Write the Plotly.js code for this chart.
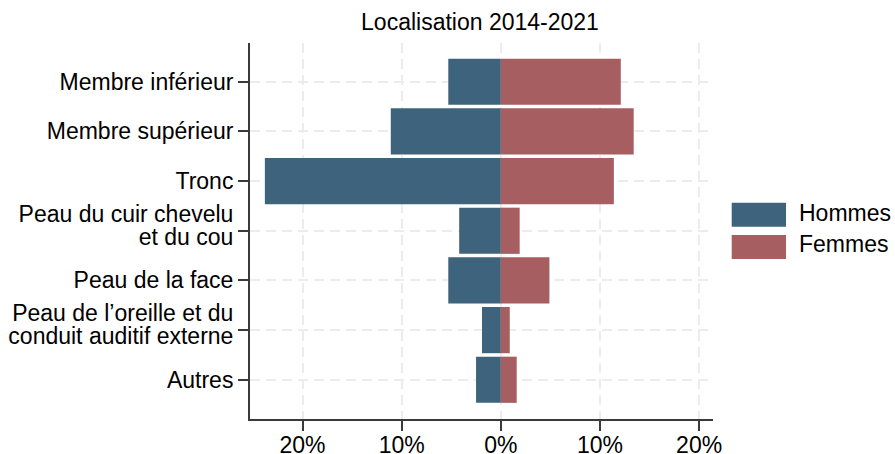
<!DOCTYPE html>
<html>
<head>
<meta charset="utf-8">
<script src="https://cdn.plot.ly/plotly-3.0.1.min.js"></script>
<style>html,body{margin:0;padding:0;background:#fff;}#chart{width:895px;height:454px;}</style>
</head>
<body>
<div id="chart"></div>
<script>
const categories = ["Membre inférieur", "Membre supérieur", "Tronc", "Peau du cuir chevelu<br>et du cou", "Peau de la face", "Peau de l’oreille et du<br>conduit auditif externe", "Autres"];
const seriesNames = ["Hommes", "Femmes"];
const hommes = [5.3, 11.1, 23.8, 4.2, 5.3, 1.9, 2.5];
const femmes = [12.1, 13.4, 11.4, 1.9, 4.9, 0.9, 1.6];
const tickVals = [-20, -10, 0, 10, 20];
const tickText = ["20%", "10%", "0%", "10%", "20%"];
const colors = ["#3e637d", "#a65e61"];

const FS = 23;
const font = {family: "Liberation Sans, Arial, sans-serif", color: "#000", size: FS};

const traces = [
  {type: "bar", orientation: "h", name: seriesNames[0], y: categories, x: hommes.map(v => -v),
   marker: {color: colors[0], line: {width: 0}}, width: 0.93, hoverinfo: "skip", showlegend: false},
  {type: "bar", orientation: "h", name: seriesNames[1], y: categories, x: femmes,
   marker: {color: colors[1], line: {width: 0}}, width: 0.93, hoverinfo: "skip", showlegend: false}
];

// legend drawn as boxes + labels (paper coordinates)
const legendBoxes = [[0.5114, 0.5753], [0.4255, 0.4894]];
const legendText = [0.5492, 0.4641];
const shapes = seriesNames.map((n, i) => ({
  type: "rect", xref: "paper", yref: "paper", x0: 1.0404, x1: 1.1577,
  y0: legendBoxes[i][0], y1: legendBoxes[i][1], fillcolor: colors[i], line: {width: 0}
}));
const annotations = seriesNames.map((n, i) => ({
  text: n, xref: "paper", yref: "paper", x: 1.184, y: legendText[i],
  xanchor: "left", yanchor: "middle", showarrow: false, font: font, borderpad: 0
}));

const axisCommon = {
  showgrid: true, gridcolor: "#ececec", gridwidth: 2, griddash: "10px,6px",
  zeroline: false, showline: true, linecolor: "#3a3a3a", linewidth: 2,
  ticks: "outside", ticklen: 10, tickwidth: 2, tickcolor: "#3a3a3a",
  tickfont: font, fixedrange: true
};

const layout = {
  width: 895, height: 454,
  margin: {l: 250, r: 182, t: 43, b: 35},
  paper_bgcolor: "#fff", plot_bgcolor: "#fff",
  barmode: "relative",
  title: {text: "Localisation 2014-2021", x: 480 / 895, xanchor: "center",
          yref: "container", y: 1 - 29.5 / 454, yanchor: "bottom", pad: {b: 0, t: 0},
          font: font},
  font: font,
  xaxis: Object.assign({range: [-25.3, 21.4], tickvals: tickVals, ticktext: tickText,
          ticklabelstandoff: -6}, axisCommon),
  yaxis: Object.assign({type: "category", categoryorder: "array", categoryarray: categories,
          range: [6.79, -0.78]}, axisCommon),
  shapes: shapes,
  annotations: annotations,
  showlegend: false
};

Plotly.newPlot("chart", traces, layout, {staticPlot: true, displayModeBar: false}).then(gd => {
  // tighten line spacing of two-line category labels
  gd.querySelectorAll(".ytick text").forEach(t => {
    const lines = t.querySelectorAll("tspan.line");
    if (lines.length > 1) {
      const absolute = lines[1].hasAttribute("y");
      lines[0].setAttribute("dy", "-0.08em");
      lines[1].setAttribute("dy", absolute ? "0.92em" : "1.0em");
    }
  });
});
</script>
</body>
</html>
